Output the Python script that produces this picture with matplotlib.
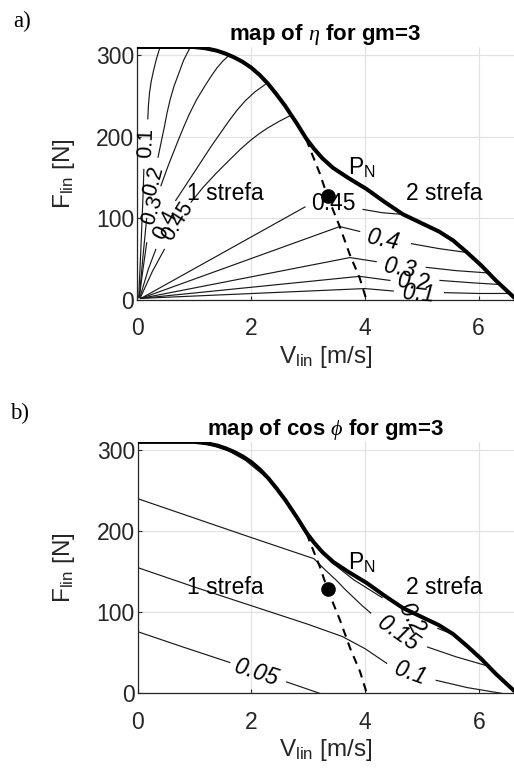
import numpy as np
import matplotlib
matplotlib.use('Agg')
import matplotlib.pyplot as plt

plt.rcParams['font.family'] = ['Liberation Sans', 'DejaVu Sans']
plt.rcParams['mathtext.fontset'] = 'custom'
plt.rcParams['mathtext.rm'] = 'Liberation Sans'
plt.rcParams['mathtext.it'] = 'Liberation Serif:italic'

nan = np.nan

# envelope (max force vs speed)
env_v = [0, 1.0, 1.2, 1.4, 1.55, 1.7, 1.85, 2.0, 2.15, 2.3, 2.45, 2.6, 2.8, 2.97,
         3.1, 3.25, 3.44, 3.7, 4.03, 4.35, 4.67, 5.0, 5.3, 5.55, 5.8, 6.05, 6.3,
         6.5, 6.67]
env_F = [310, 310, 308.5, 305.5, 302, 297.5, 292, 285, 276, 265, 252, 238, 217, 198,
         186, 174, 162, 150, 136, 120, 105, 94, 84, 73, 58, 42, 24, 11, 0]

# border between zone 1 and zone 2 (dashed)
dash_v = [2.97, 3.21, 3.34, 3.56, 3.74, 3.91, 4.03]
dash_F = [197, 155, 128, 90, 55, 27, 0]

# nominal point
pn_v = [3.35]
pn_F = [128]

# efficiency contours, NaN = gap for the label
eta_levels = ['0.1', '0.2', '0.3', '0.4', '0.45']
eta_left_v = [
    [0.03, 0.06, 0.09, 0.11, 0.12, nan, 0.19, 0.20, 0.22, 0.25, 0.29, 0.34, 0.40],
    [0.04, 0.10, 0.17, nan, 0.37, 0.42, 0.48, 0.53, 0.58, 0.65, 0.73, 0.82, 0.93],
    [0.04, 0.10, 0.17, nan, 0.42, 0.55, 0.72, 0.82, 0.92, 1.05, 1.19, 1.30, 1.40, 1.51, 1.62],
    [0.05, 0.20, 0.33, nan, 0.68, 0.85, 1.0, 1.15, 1.3, 1.45, 1.6, 1.75, 1.9, 2.07, 2.25],
    [0.06, 0.27, 0.48, nan, 0.95, 1.16, 1.4, 1.63, 1.82, 2.0, 2.15, 2.3, 2.5, 2.72],
]
eta_left_F = [
    [3, 50, 100, 135, 160, nan, 222, 238, 254, 268, 281, 295, 309],
    [3, 50, 100, nan, 175, 192, 212, 230, 245, 262, 277, 294, 309],
    [3, 35, 70, nan, 140, 165, 195, 212, 228, 246, 262, 274, 284, 293, 300],
    [3, 38, 62, nan, 122, 140, 156, 172, 188, 203, 218, 232, 244, 255, 264],
    [3, 35, 62, nan, 120, 138, 156, 172, 185, 196, 204, 211, 219, 227],
]
eta_right_v = [
    [0.07, 4.0, 4.5, nan, 5.4, 6.0, 6.54],
    [0.07, 3.91, 4.44, nan, 5.32, 5.9, 6.37],
    [0.07, 3.74, 4.2, nan, 5.08, 5.6, 6.19],
    [0.07, 3.56, 3.91, nan, 4.82, 5.3, 5.81],
    [0.07, 2.95, nan, 3.97, 4.3, 4.64],
]
eta_right_F = [
    [2, 14, 11, nan, 9, 8, 8],
    [2, 29, 24, nan, 24, 21, 19],
    [2, 52, 47, nan, 40, 36, 33],
    [2, 90, 84, nan, 69, 63, 58],
    [2, 114, nan, 111, 107, 105],
]

# power factor contours
cos_levels = ['0.05', '0.1', '0.15', '0.2']
cos_v = [
    [0, 0.8, 1.62, nan, 2.62, 3.2],
    [0, 1, 2, 3, 3.6, 4.0, 4.38, nan, 5.25, 5.8, 6.4],
    [0, 1, 2, 3.1, 3.3, 3.5, 3.65, 3.8, 3.95, 4.1, nan, 5.1, 5.6, 6.19],
    [0.95, 1.3, 1.6, 1.9, 2.3, 2.7, 3.0, 3.4, 3.8, 4.3, nan, 5.28, 5.5],
]
cos_F = [
    [76, 57, 38, nan, 14, 0],
    [155, 131, 108, 85, 70, 55, 37, nan, 16, 7, 0],
    [240, 216, 192, 166, 152, 139, 128, 118, 108, 99, nan, 57, 45, 33],
    [310, 306, 299, 287, 264, 228, 195, 162, 140, 118, nan, 80, 74],
]

line_col = '#1a1a1a'
ax_col = '#262626'

fig = plt.figure(figsize=(5.14, 7.72), dpi=100)
ax1 = fig.add_axes([137 / 514, 1 - 300 / 772, 377 / 514, 253 / 772])
ax2 = fig.add_axes([137.7 / 514, 1 - 693.3 / 772, 376.3 / 514, 251.4 / 772])


def style(ax, title):
    ax.set_xlim(0, 6.62)
    ax.set_ylim(0, 310)
    ax.set_xticks([0, 2, 4, 6])
    ax.set_yticks([0, 100, 200, 300])
    ax.grid(True, color='#e2e2e2', lw=0.9)
    ax.set_axisbelow(True)
    for s in ['top', 'right']:
        ax.spines[s].set_visible(False)
    for s in ['left', 'bottom']:
        ax.spines[s].set_color(ax_col)
        ax.spines[s].set_linewidth(0.9)
    ax.tick_params(direction='in', length=3, width=0.8, labelsize=16.5,
                   colors=ax_col)
    ax.tick_params(axis='x', pad=12.5)
    ax.tick_params(axis='y', pad=2)
    ax.set_title(title, fontweight='bold', fontsize=16, pad=5)
    ax.set_ylabel(r'F$_{\mathrm{lin}}$ [N]', fontsize=17.5, color=ax_col)
    ax.set_xlabel(r'V$_{\mathrm{lin}}$ [m/s]', fontsize=17.5, color=ax_col)
    ax.yaxis.set_label_coords(-0.16, 0.5)
    ax.xaxis.set_label_coords(0.5, -0.175)


def common(ax):
    ax.plot(env_v, env_F, color='black', lw=2.9, zorder=5, clip_on=True)
    ax.plot(dash_v, dash_F, color='black', lw=1.5, ls=(0, (4, 3)), zorder=4)
    ax.plot(pn_v, pn_F, 'o', color='black', ms=9.5, zorder=6)
    ax.text(3.70, 153, r'P$_{\mathrm{N}}$', fontsize=16.5, zorder=7)
    ax.text(1.55, 123, '1 strefa', fontsize=16.5, ha='center', va='baseline', zorder=7)
    ax.text(5.39, 123, '2 strefa', fontsize=16.5, ha='center', va='baseline', zorder=7)


# ---- a) efficiency map
style(ax1, r'map of $\eta$ for gm=3')
for v, F in zip(eta_left_v, eta_left_F):
    ax1.plot(v, F, color=line_col, lw=0.85)
for v, F in zip(eta_right_v, eta_right_F):
    ax1.plot(v, F, color=line_col, lw=0.85)
common(ax1)

left_lab = [(0.16, 192, 88), (0.29, 146, 75), (0.27, 110, 72), (0.50, 92, 62), (0.72, 96, 58)]
for lev, (x, y, r) in zip(eta_levels, left_lab):
    ax1.text(x, y, lev, fontsize=15.5, rotation=r, ha='center', va='center',
             rotation_mode='anchor')
right_lab = [(4.94, 7, -5), (4.85, 22, -6), (4.61, 39, -10), (4.32, 73, -12), (3.44, 118, 0)]
for lev, (x, y, r) in zip(eta_levels, right_lab):
    ax1.text(x, y, lev, fontsize=16.5, rotation=r, ha='center', va='center',
             rotation_mode='anchor', style='normal' if lev == '0.45' else 'italic')

# ---- b) power factor map
style(ax2, r'map of cos $\phi$ for gm=3')
for v, F in zip(cos_v, cos_F):
    ax2.plot(v, F, color=line_col, lw=0.85)
common(ax2)

cos_lab = [(2.09, 25, -18), (4.79, 25, -20), (4.58, 74, -35), (4.82, 92, -62)]
for lev, (x, y, r) in zip(cos_levels, cos_lab):
    ax2.text(x, y, lev, fontsize=16.5, rotation=r, ha='center', va='center',
             rotation_mode='anchor', style='italic', zorder=7)

fig.text(13 / 514, 1 - 21 / 772, 'a)', family='Liberation Serif', fontsize=16.5, va='center')
fig.text(10 / 514, 1 - 413 / 772, 'b)', family='Liberation Serif', fontsize=16.5, va='center')

fig.savefig('out.png', dpi=100)
